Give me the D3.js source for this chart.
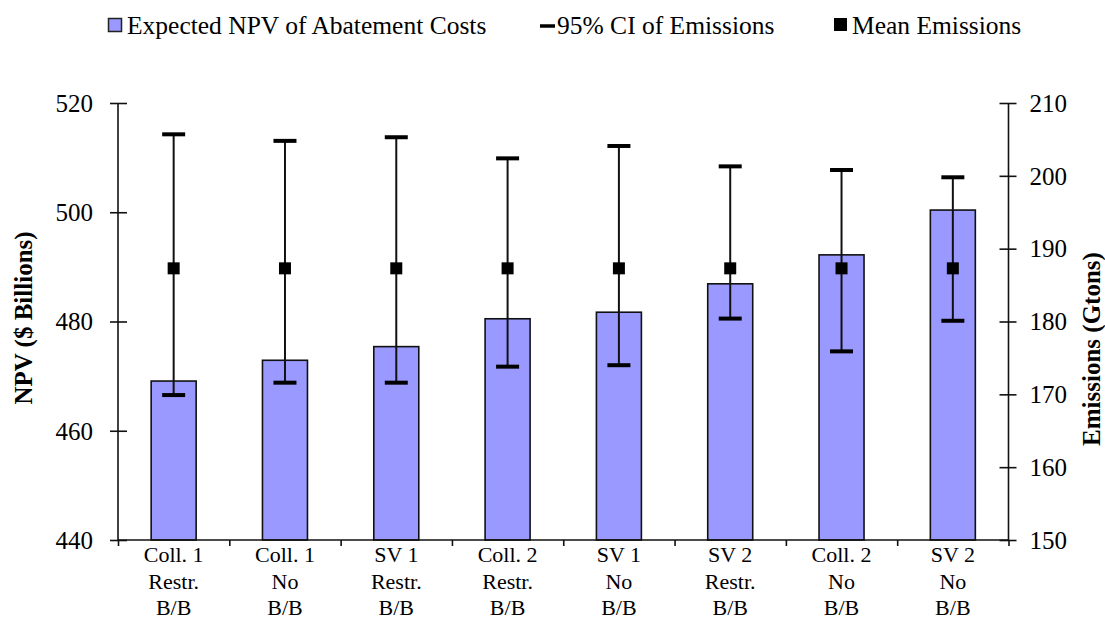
<!DOCTYPE html>
<html>
<head>
<meta charset="utf-8">
<script src="https://cdn.jsdelivr.net/npm/d3@7"></script>
<style>
    body { margin: 0; background: #fff; }
    text { font-family: "Liberation Serif", "Times New Roman", serif; fill: #000; }
</style>
</head>
<body>
<svg class="chart"></svg>
<script>
// scenario labels, three lines each
var categories = [
    ["Coll. 1", "Restr.", "B/B"],
    ["Coll. 1", "No", "B/B"],
    ["SV 1", "Restr.", "B/B"],
    ["Coll. 2", "Restr.", "B/B"],
    ["SV 1", "No", "B/B"],
    ["SV 2", "Restr.", "B/B"],
    ["Coll. 2", "No", "B/B"],
    ["SV 2", "No", "B/B"]
];

// expected NPV of abatement costs ($ billions)
var npv = [469.1, 472.9, 475.4, 480.5, 481.7, 486.9, 492.2, 500.4];

// emissions (Gtons): mean and 95% CI
var emisMean = [187.3, 187.3, 187.3, 187.3, 187.3, 187.3, 187.3, 187.3];
var emisLow = [169.9, 171.6, 171.6, 173.8, 174.0, 180.4, 175.9, 180.1];
var emisHigh = [205.7, 204.8, 205.3, 202.4, 204.1, 201.3, 200.8, 199.8];

var npvTicks = [440, 460, 480, 500, 520];
var emisTicks = [150, 160, 170, 180, 190, 200, 210];

var legendItems = ["Expected NPV of Abatement Costs", "95% CI of Emissions", "Mean Emissions"];

function show() {
    'use strict';

    var width = 1105, height = 620;
    var left = 118, right = 1008.5, top = 103, bottom = 540;

    var svg = d3.select(".chart")
        .attr("width", width)
        .attr("height", height);

    var idx = d3.range(categories.length);

    var x = d3.scaleBand().domain(idx).range([left, right]).paddingInner(0).paddingOuter(0);
    var xEdge = d3.scaleLinear().domain([0, categories.length]).range([left, right]);
    var yL = d3.scaleLinear().domain([440, 520]).range([bottom, top]);
    var yR = d3.scaleLinear().domain([150, 210]).range([bottom, top]);

    var barW = 45;

    // bars first so the error bars draw on top
    svg.selectAll(".bar").data(idx).enter().append("rect")
        .attr("class", "bar")
        .attr("x", function(i) { return x(i) + x.bandwidth() / 2 - barW / 2; })
        .attr("y", function(i) { return yL(npv[i]); })
        .attr("width", barW)
        .attr("height", function(i) { return yL(440) - yL(npv[i]); })
        .attr("fill", "#9999ff")
        .attr("stroke", "#111")
        .attr("stroke-width", 1.6);

    // left axis, ticks crossing the line
    var gL = svg.append("g")
        .attr("transform", "translate(" + left + ",0)")
        .call(d3.axisLeft(yL).tickValues(npvTicks).tickSize(8).tickPadding(17));
    gL.selectAll(".tick line").attr("x1", 9);
    gL.select(".domain").attr("d", "M0," + top + "V" + bottom);

    var gR = svg.append("g")
        .attr("transform", "translate(" + right + ",0)")
        .call(d3.axisRight(yR).tickValues(emisTicks).tickSize(8).tickPadding(13));
    gR.selectAll(".tick line").attr("x1", -9);
    gR.select(".domain").attr("d", "M0," + top + "V" + bottom);

    [gL, gR].forEach(function(g) {
        g.selectAll("path, line").attr("stroke", "#111").attr("stroke-width", 1.6);
        g.selectAll("text")
            .attr("font-family", "Liberation Serif")
            .attr("font-size", 25)
            .attr("fill", "#000")
            .attr("dy", "0.33em");
    });

    // category axis: ticks at band edges
    var gB = svg.append("g")
        .attr("transform", "translate(0," + bottom + ")")
        .call(d3.axisBottom(xEdge).tickValues(d3.range(categories.length + 1))
            .tickSize(6).tickFormat(""));
    gB.select(".domain").attr("d", "M" + left + ",0H" + right);
    gB.selectAll("path, line").attr("stroke", "#111").attr("stroke-width", 1.6);

    var labels = svg.selectAll(".xlab").data(idx).enter().append("text")
        .attr("class", "xlab")
        .attr("text-anchor", "middle")
        .attr("font-size", 22)
        .attr("transform", function(i) {
            return "translate(" + (x(i) + x.bandwidth() / 2) + ",0)";
        });
    labels.selectAll("tspan").data(function(i) { return categories[i]; }).enter()
        .append("tspan")
        .attr("x", 0)
        .attr("y", function(d, k) { return 562 + k * 26.5; })
        .text(function(d) { return d; });

    // error bars on the emissions axis
    var capW = 23;
    var err = svg.selectAll(".err").data(idx).enter().append("g")
        .attr("class", "err")
        .attr("transform", function(i) {
            return "translate(" + (x(i) + x.bandwidth() / 2) + ",0)";
        });
    err.append("line")
        .attr("y1", function(i) { return yR(emisLow[i]); })
        .attr("y2", function(i) { return yR(emisHigh[i]); })
        .attr("stroke", "#111").attr("stroke-width", 2);
    err.append("line")
        .attr("x1", -capW / 2).attr("x2", capW / 2)
        .attr("y1", function(i) { return yR(emisHigh[i]); })
        .attr("y2", function(i) { return yR(emisHigh[i]); })
        .attr("stroke", "#000").attr("stroke-width", 4);
    err.append("line")
        .attr("x1", -capW / 2).attr("x2", capW / 2)
        .attr("y1", function(i) { return yR(emisLow[i]); })
        .attr("y2", function(i) { return yR(emisLow[i]); })
        .attr("stroke", "#000").attr("stroke-width", 4);
    err.append("rect")
        .attr("x", -6).attr("width", 12).attr("height", 12)
        .attr("y", function(i) { return yR(emisMean[i]) - 6; })
        .attr("fill", "#000");

    // axis titles
    svg.append("text")
        .attr("transform", "translate(32,318) rotate(-90)")
        .attr("text-anchor", "middle")
        .attr("font-size", 25)
        .attr("font-weight", "bold")
        .text("NPV ($ Billions)");
    svg.append("text")
        .attr("transform", "translate(1100,349) rotate(-90)")
        .attr("text-anchor", "middle")
        .attr("font-size", 25)
        .attr("font-weight", "bold")
        .text("Emissions (Gtons)");

    // legend
    var lg = svg.append("g");
    lg.append("rect").attr("x", 108.5).attr("y", 18.5).attr("width", 13).attr("height", 13)
        .attr("fill", "#9999ff").attr("stroke", "#222").attr("stroke-width", 1.5);
    lg.append("line").attr("x1", 540).attr("x2", 555).attr("y1", 26).attr("y2", 26)
        .attr("stroke", "#000").attr("stroke-width", 3.5);
    lg.append("rect").attr("x", 834).attr("y", 18).attr("width", 13).attr("height", 13)
        .attr("fill", "#000");
    var lx = [127, 557, 852];
    lg.selectAll(".ltext").data(legendItems).enter().append("text")
        .attr("class", "ltext")
        .attr("x", function(d, k) { return lx[k]; })
        .attr("y", 34)
        .attr("font-size", 25.5)
        .text(function(d) { return d; });
}

show();
</script>
</body>
</html>
